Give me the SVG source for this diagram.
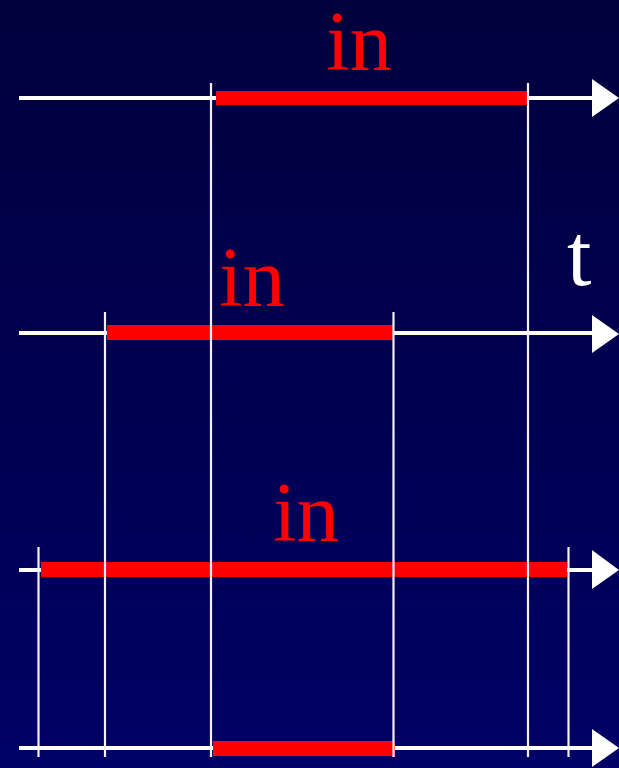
<svg xmlns="http://www.w3.org/2000/svg" width="619" height="768" viewBox="0 0 619 768">
<defs>
<linearGradient id="bg" x1="0" y1="0" x2="0" y2="1">
<stop offset="0" stop-color="#00003c"/>
<stop offset="1" stop-color="#000066"/>
</linearGradient>
<style>
.axis{stroke:#ffffff;stroke-width:4;fill:none}
.head{fill:#ffffff}
.bar{fill:#ff0000}
.tick{stroke:#f4f0ff;stroke-width:2.2;fill:none}
.lbl{font-family:"Liberation Serif","Times New Roman",serif;font-size:85px;fill:#ff0000}
.t{font-family:"Liberation Serif","Times New Roman",serif;font-size:88px;fill:#ffffff}
</style>
</defs>
<rect width="619" height="768" fill="url(#bg)"/>
<g id="axes">
<line class="axis" x1="19" y1="98" x2="594" y2="98"/>
<polygon class="head" points="592,79 619,98 592,117"/>
<line class="axis" x1="19" y1="333" x2="594" y2="333"/>
<polygon class="head" points="592,315 619,334 592,353"/>
<line class="axis" x1="19" y1="570" x2="594" y2="570"/>
<polygon class="head" points="592,550 619,570 592,589"/>
<line class="axis" x1="19" y1="748" x2="594" y2="748"/>
<polygon class="head" points="592,729 619,748 592,767"/>
</g>
<g id="intervals">
<rect class="bar" x="216" y="91" width="311" height="14"/>
<rect class="bar" x="107" y="325" width="287" height="15"/>
<rect class="bar" x="41" y="562" width="526" height="15"/>
<rect class="bar" x="213" y="741" width="182" height="15"/>
</g>
<g id="connectors">
<line class="tick" x1="211" y1="83" x2="211" y2="757"/>
<line class="tick" x1="528" y1="83" x2="528" y2="757"/>
<line class="tick" x1="105" y1="312" x2="105" y2="757"/>
<line class="tick" x1="393.5" y1="312" x2="393.5" y2="757"/>
<line class="tick" x1="38.5" y1="547" x2="38.5" y2="757"/>
<line class="tick" x1="568.5" y1="547" x2="568.5" y2="757"/>
</g>
<g id="labels">
<text class="lbl" x="326" y="70">in</text>
<text class="lbl" x="219" y="306">in</text>
<text class="lbl" x="273" y="541">in</text>
<text class="t" x="567" y="285">t</text>
</g>
</svg>
